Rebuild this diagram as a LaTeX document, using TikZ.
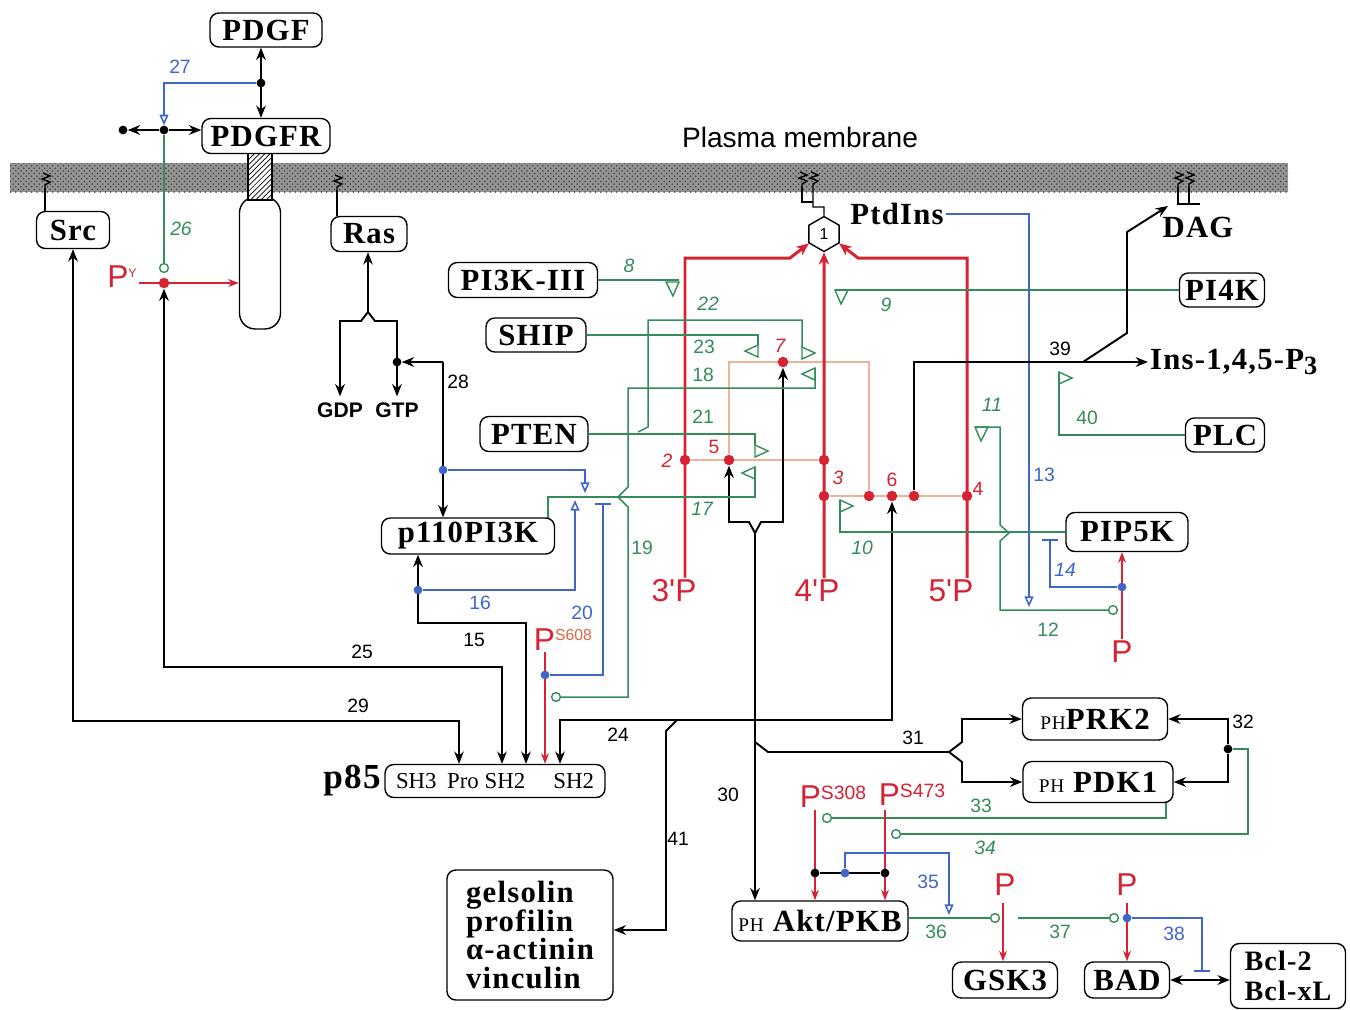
\documentclass[tikz,border=0pt]{standalone}
\usepackage{fontspec}
\setmainfont{Liberation Serif}
\setsansfont{Liberation Sans}
\newfontfamily\boxfont[LetterSpace=4]{Liberation Serif}
\usetikzlibrary{arrows.meta, positioning, calc, shapes.geometric, patterns}

\definecolor{pgreen}{RGB}{52,140,88}
\definecolor{pblue}{RGB}{64,102,200}
\definecolor{pred}{RGB}{214,34,50}
\definecolor{psalmon}{RGB}{238,178,150}
\definecolor{porange}{RGB}{228,98,64}

\pgfdeclarelayer{back}
\pgfdeclarelayer{lines}
\pgfsetlayers{back,lines,main}

\newcommand{\phx}{{\mdseries\fontsize{11}{12}\selectfont PH}}

\tikzset{
  lipid/.pic={\draw[line width=0.8pt] (0,0) -- (0,-3) -- (5,-6) -- (-3,-9) -- (5,-12) -- (-2,-15);},
  flagR/.pic={\draw[pgreen, line width=0.8pt] (0,0) -- (0,12) -- (13,6) -- cycle;},
  flagL/.pic={\draw[pgreen, line width=0.8pt] (0,0) -- (0,12) -- (-13,6) -- cycle;},
  flagD/.pic={\draw[pgreen, line width=0.8pt] (0,0) -- (13,0) -- (6,14) -- cycle;},
  flagDL/.pic={\draw[pgreen, line width=0.8pt] (0,0) -- (-13,0) -- (-6,14) -- cycle;},
}

\begin{document}
\begin{tikzpicture}[x=0.02cm, y=-0.02cm,
    box/.style={draw, fill=white, rounded corners=5pt, line width=0.8pt, inner sep=2pt,
      minimum height=0.68cm, font=\boxfont\bfseries\fontsize{17.5}{20}\selectfont},
    big/.style={font=\boxfont\bfseries\fontsize{17.5}{20}\selectfont, inner sep=1pt},
    lbl/.style={font=\sffamily\fontsize{11}{12}\selectfont, inner sep=1pt},
    ilbl/.style={font=\sffamily\itshape\fontsize{11}{12}\selectfont, inner sep=1pt},
    redP/.style={font=\sffamily\fontsize{18}{18}\selectfont, text=pred, inner sep=1pt},
    conn/.style={line width=1.1pt},
    arr/.style={conn, -{Stealth[length=7pt, width=5.5pt]}},
    darr/.style={conn, {Stealth[length=7pt, width=5.5pt]}-{Stealth[length=7pt, width=5.5pt]}},
    grn/.style={pgreen, line width=0.85pt},
    blu/.style={pblue, line width=0.9pt},
    opn/.style={blu, -{Triangle[open, length=6pt, width=5pt]}},
    inh/.style={blu, -{Bar[width=9pt, line width=1.4pt]}},
    rdk/.style={pred, line width=1.7pt, -{Stealth[length=7pt, width=6pt]}},
    rdarr/.style={pred, line width=0.9pt, -{Stealth[length=6pt, width=4.5pt]}},
    sal/.style={psalmon, line width=1pt},
    dot/.style={circle, fill, inner sep=0pt, minimum size=5pt},
    rdot/.style={dot, fill=pred, minimum size=6pt},
    bdot/.style={dot, fill=pblue},
    odot/.style={circle, draw=pgreen, fill=white, line width=0.8pt, inner sep=0pt, minimum size=5pt}]

\useasboundingbox (0,0) rectangle (1350,1009);

% membrane
\begin{pgfonlayer}{back}
  \fill[black!42] (10,163) rectangle (1288,192);
  \fill[pattern=crosshatch dots, pattern color=black!75] (10,163) rectangle (1288,192);
\end{pgfonlayer}
\node[font=\sffamily\fontsize{16}{18}\selectfont] (pm) at (800,137) {Plasma membrane};

% receptor
\node[draw, fill=white, rounded corners=9pt, line width=0.8pt, minimum width=0.82cm, minimum height=2.64cm] (rbody) at (260,263) {};
\node[draw, preaction={fill=white}, pattern=north east lines, line width=0.8pt, inner sep=0pt,
  minimum width=0.48cm, minimum height=0.96cm] (rtm) at (260,176) {};

% boxes
\node[box, minimum width=2.24cm] (pdgf) at (266,30) {PDGF};
\node[box, minimum width=2.56cm, minimum height=0.7cm] (pdgfr) at (266,136) {PDGFR};
\node[box, minimum width=1.46cm, minimum height=0.74cm] (src) at (73,230) {Src};
\node[box, minimum width=1.52cm, minimum height=0.7cm] (ras) at (369,234) {Ras};
\node[box, minimum width=2.98cm, minimum height=0.7cm] (pi3kiii) at (523,280) {PI3K-III};
\node[box, minimum width=2.0cm] (ship) at (536,335) {SHIP};
\node[box, minimum width=2.16cm, minimum height=0.7cm] (pten) at (534,434) {PTEN};
\node[box, minimum width=3.46cm, minimum height=0.72cm] (p110) at (468,536) {p110PI3K};
\node[box, font=\rmfamily\fontsize{13}{15}\selectfont, minimum width=4.4cm, minimum height=0.66cm] (p85) at (495,781)
  {SH3\hspace{6pt}Pro SH2\hspace{16pt}SH2};
\node[big, font=\boxfont\bfseries\fontsize{20}{22}\selectfont] (p85lbl) at (352,781) {p85};
\node[box, minimum width=1.7cm] (pi4k) at (1222,290) {PI4K};
\node[box, minimum width=1.58cm] (plc) at (1225,435) {PLC};
\node[box, minimum width=2.44cm, minimum height=0.78cm] (pip5k) at (1127,532) {PIP5K};
\node[box, minimum width=2.9cm, minimum height=0.84cm] (prk2) at (1095,719) {\phx PRK2};
\node[box, minimum width=3.0cm, minimum height=0.82cm] (pdk1) at (1098,782) {\phx\ PDK1};
\node[box, minimum width=3.52cm, minimum height=0.8cm] (akt) at (820,921) {\phx\ Akt/PKB};
\node[box, minimum width=2.1cm, minimum height=0.72cm] (gsk3) at (1005,980) {GSK3};
\node[box, minimum width=1.7cm, minimum height=0.72cm] (bad) at (1127,980) {BAD};
\node[box, align=left, font=\boxfont\bfseries\fontsize{16}{17}\selectfont, minimum width=2.3cm, minimum height=1.3cm] (bcl) at (1288,976) {Bcl-2\\Bcl-xL};
\node[box, align=left, font=\boxfont\bfseries\fontsize{17.5}{16.5}\selectfont, minimum width=3.32cm, minimum height=2.6cm] (actin) at (530,935)
  {gelsolin\\profilin\\α-actinin\\vinculin};

% free texts
\node[big] (ptdins) at (897,214) {PtdIns};
\node[big] (dag) at (1198,227) {DAG};
\node[big, anchor=west] (ins) at (1148,362) {Ins-1,4,5-P\raisebox{-0.3ex}{\fontsize{15}{15}\selectfont 3}};
\node[font=\sffamily\bfseries\fontsize{12}{14}\selectfont] (gdp) at (340,410) {GDP};
\node[font=\sffamily\bfseries\fontsize{12}{14}\selectfont] (gtp) at (397,410) {GTP};
\node[draw, fill=white, regular polygon, regular polygon sides=6, shape border rotate=30, minimum size=0.7cm,
  inner sep=0pt, line width=0.8pt, font=\sffamily\fontsize{9}{10}\selectfont] (hex) at (824,234) {1};

% red labels
\node[redP] (p3) at (674,591) {3\textquotesingle P};
\node[redP] (p4) at (817,591) {4\textquotesingle P};
\node[redP] (p5) at (951,591) {5\textquotesingle P};
\node[redP] (py) at (122,277) {P\raisebox{0.6ex}{\fontsize{7}{7}\selectfont Y}};
\node[redP] (ps608) at (563,640) {P\raisebox{0.6ex}{\color{porange}\fontsize{9}{9}\selectfont S608}};
\node[redP] (ps308) at (833,797) {P\raisebox{0.5ex}{\fontsize{11}{12}\selectfont S308}};
\node[redP] (ps473) at (912,795) {P\raisebox{0.5ex}{\fontsize{11}{12}\selectfont S473}};
\node[redP] (ppip) at (1122,652) {P};
\node[redP] (pgsk) at (1005,885) {P};
\node[redP] (pbad) at (1127,885) {P};

% dots
\node[dot] (j27) at (261,83) {};
\node[dot] (j26) at (164,130) {};
\node[dot] (end26) at (123,130) {};
\node[rdot] (dpy) at (164,283) {};
\node[odot] (c26) at (164,268) {};
\node[dot] (dgtp) at (397,362) {};
\node[bdot] (d28) at (443,470) {};
\node[bdot] (d16) at (418,590) {};
\node[bdot] (d20) at (545,675) {};
\node[odot] (c19) at (556,697) {};
\node[rdot] (d2) at (685,460) {};
\node[rdot] (d5) at (729,460) {};
\node[rdot] (d3a) at (824,460) {};
\node[rdot] (d7) at (783,362) {};
\node[rdot] (d3) at (824,496) {};
\node[rdot] (d6a) at (869,496) {};
\node[rdot] (d6) at (892,496) {};
\node[rdot] (d6b) at (914,496) {};
\node[rdot] (d4) at (967,496) {};
\node[bdot] (d14) at (1122,587) {};
\node[odot] (c12) at (1113,610) {};
\node[dot] (d32) at (1228,749) {};
\node[odot] (c33) at (827,818) {};
\node[odot] (c34) at (896,834) {};
\node[dot] (k1) at (815,873) {};
\node[dot] (k2) at (885,873) {};
\node[bdot] (d35) at (845,873) {};
\node[odot] (c36) at (995,918) {};
\node[odot] (c37) at (1114,918) {};
\node[bdot] (d38) at (1127,918) {};
\coordinate (y30) at (755,533);

\begin{pgfonlayer}{lines}
  % lipid anchors
  \draw[line width=0.8pt] (src.north -| 45,0) -- (45,188) pic {lipid};
  \draw[line width=0.8pt] (ras.north -| 337,0) -- (337,190) pic {lipid};
  \draw[line width=0.8pt] (hex.north) -- (824,207) -- (813,207) -- (813,187) pic {lipid};
  \draw[line width=0.8pt] (813,202) -- (802,202) -- (802,187) pic {lipid};
  \draw[line width=0.8pt] (1200,204) -- (1178,204) -- (1178,187) pic {lipid};
  \draw[line width=0.8pt] (1189,204) -- (1189,187) pic {lipid};

  % receptor
  \draw[darr] (pdgf.south -| j27) -- (pdgfr.north -| j27);
  \draw[opn] (j27) -| (j26);
  \draw[arr] (j26) -- (end26);
  \draw[arr] (j26) -- (pdgfr.west |- j26);
  \draw[grn] (j26) -- (c26);
  \draw[rdarr] (py.east |- dpy) -- (rbody.west |- dpy);
  \draw[darr] (dpy) |- (502,667) -- (p85.north -| 502,0);
  \draw[darr] (src) |- (459,721) -- (p85.north -| 459,0);

  % Ras
  \draw[arr] (368,312) -- (ras.south -| 368,0);
  \draw[arr] (368,312) -- (361,321) -| (gdp.north);
  \draw[arr] (368,312) -- (375,321) -| (gtp.north);
  \draw[arr] (443,362) -- (dgtp);
  \draw[arr] (443,362) -- (p110.north -| 443,0);

  % p110 / p85
  \draw[opn] (d28) -| (585,493);
  \draw[darr] (p110.south -| 418,0) |- (526,623) -- (p85.north -| 526,0);
  \draw[opn] (d16) -| (575,500);
  \draw[inh] (d20) -| (603,503);
  \draw[rdarr] (545,652) -- (p85.north -| 545,0);
  \draw[darr] (d6) |- (560,720) -- (p85.north -| 560,0);
  \draw[arr] (677,720) -- (666,731) |- (actin.east |- 0,930);

  % PI phosphates
  \draw[sal] (d2) -- (d3a);
  \draw[sal] (d3) -- (d4);
  \draw[sal] (d5) -- (729,362) -- (869,362) -- (d6a);
  \draw[rdk] (p3.north -| 685,0) |- (790,258) -- (hex.212);
  \draw[rdk] (p4.north -| 824,0) -- (hex.south);
  \draw[rdk] (p5.north -| 967,0) |- (858,258) -- (hex.-32);

  % Akt branches
  \draw[arr] (y30) -- (y30 |- akt.north);
  \draw[arr] (y30) -- (749,522) -| (d5);
  \draw[arr] (y30) -- (761,522) -| (d7);
  \draw[conn] (755,742) -- (768,752) -- (949,752);
  \draw[arr] (949,752) -- (962,742) |- (prk2.west);
  \draw[arr] (949,752) -- (962,762) |- (pdk1.west);
  \draw[arr] (d32) |- (prk2.east);
  \draw[arr] (d32) |- (pdk1.east);

  % green enzymes
  \draw[grn] (pi3kiii.east) -- (pi3kiii.east -| 679,0);
  \draw[grn] (ship.east) -| (758,345);
  \draw[grn] (638,432) -- (648,427) -- (648,320) -| (802,347);
  \draw[grn] (c19) -| (628,507) -- (618,497) -- (628,487) -- (628,388) -| (815,368);
  \draw[grn] (pten.east) -| (755,445);
  \draw[grn] (548,518) |- (755,497) -- (755,467);
  \draw[grn] (pi4k.west) -- (pi4k.west -| 835,0);
  \draw[grn] (plc.west) -| (1059,372);
  \draw[grn] (pip5k.west) -| (840,500);
  \draw[grn] (c12) -| (1000,541) -- (1009,533) -- (1000,525) -- (1000,427) -- (975,427);

  % PIP5K
  \draw[opn] (ptdins.east) -| (1029,607);
  \draw[inh] (d14) -| (1050,539);
  \draw[rdarr] (ppip.north) -- (pip5k.south -| ppip.north);

  % Ins / DAG
  \draw[arr] (d6b) |- (ins.west);
  \draw[arr] (1083,362) -- (1127,333) -- (1127,232) -- (1168,206);

  % Akt and targets
  \draw[grn] (pdk1.south -| 1166,0) |- (c33);
  \draw[grn] (d32) -- (1248,749) |- (c34);
  \draw[rdarr] (815,810) -- (akt.north -| 815,0);
  \draw[rdarr] (885,810) -- (akt.north -| 885,0);
  \draw[conn] (k1) -- (k2);
  \draw[opn] (d35) |- (949,853) -- (949,915);
  \draw[grn] (akt.east |- c36) -- (c36);
  \draw[rdarr] (1003,903) -- (gsk3.north -| 1003,0);
  \draw[grn] (1018,918) -- (c37);
  \draw[rdarr] (1127,903) -- (bad.north -| 1127,0);
  \draw[inh] (d38) -| (1202,972);
  \draw[darr] (bad.east) -- (bcl.west |- bad.east);
\end{pgfonlayer}

% flags
\pic at (679,282) {flagDL};
\pic at (835,290) {flagD};
\pic at (975,427) {flagD};
\pic at (758,345) {flagL};
\pic at (802,347) {flagR};
\pic at (815,368) {flagL};
\pic at (755,445) {flagR};
\pic at (755,467) {flagL};
\pic at (840,500) {flagR};
\pic at (1059,372) {flagR};

% numbers
\node[lbl, pblue] at (180,67) {27};
\node[ilbl, pgreen] at (181,229) {26};
\node[ilbl, pgreen] at (629,266) {8};
\node[ilbl, pgreen] at (708,304) {22};
\node[lbl, pgreen] at (704,347) {23};
\node[lbl, pgreen] at (703,375) {18};
\node[lbl, pgreen] at (703,417) {21};
\node[ilbl, pgreen] at (702,509) {17};
\node[lbl, pgreen] at (642,548) {19};
\node[ilbl, pgreen] at (886,305) {9};
\node[ilbl, pgreen] at (862,548) {10};
\node[ilbl, pgreen] at (992,405) {11};
\node[lbl, pgreen] at (1048,630) {12};
\node[lbl, pblue] at (1044,475) {13};
\node[ilbl, pblue] at (1065,570) {14};
\node[lbl, pblue] at (480,603) {16};
\node[lbl, pblue] at (582,613) {20};
\node[lbl] at (474,640) {15};
\node[lbl] at (362,652) {25};
\node[lbl] at (358,706) {29};
\node[lbl] at (458,382) {28};
\node[lbl] at (618,735) {24};
\node[lbl] at (678,839) {41};
\node[lbl] at (728,795) {30};
\node[lbl] at (913,738) {31};
\node[lbl] at (1243,722) {32};
\node[lbl, pgreen] at (981,806) {33};
\node[ilbl, pgreen] at (985,848) {34};
\node[lbl, pblue] at (928,882) {35};
\node[lbl, pgreen] at (936,932) {36};
\node[lbl, pgreen] at (1060,932) {37};
\node[lbl, pblue] at (1174,934) {38};
\node[lbl] at (1060,349) {39};
\node[lbl, pgreen] at (1087,418) {40};
\node[ilbl, pred] at (667,461) {2};
\node[lbl, pred] at (714,447) {5};
\node[ilbl, pred] at (780,346) {7};
\node[ilbl, pred] at (838,478) {3};
\node[lbl, pred] at (892,480) {6};
\node[lbl, pred] at (978,489) {4};
\end{tikzpicture}
\end{document}
